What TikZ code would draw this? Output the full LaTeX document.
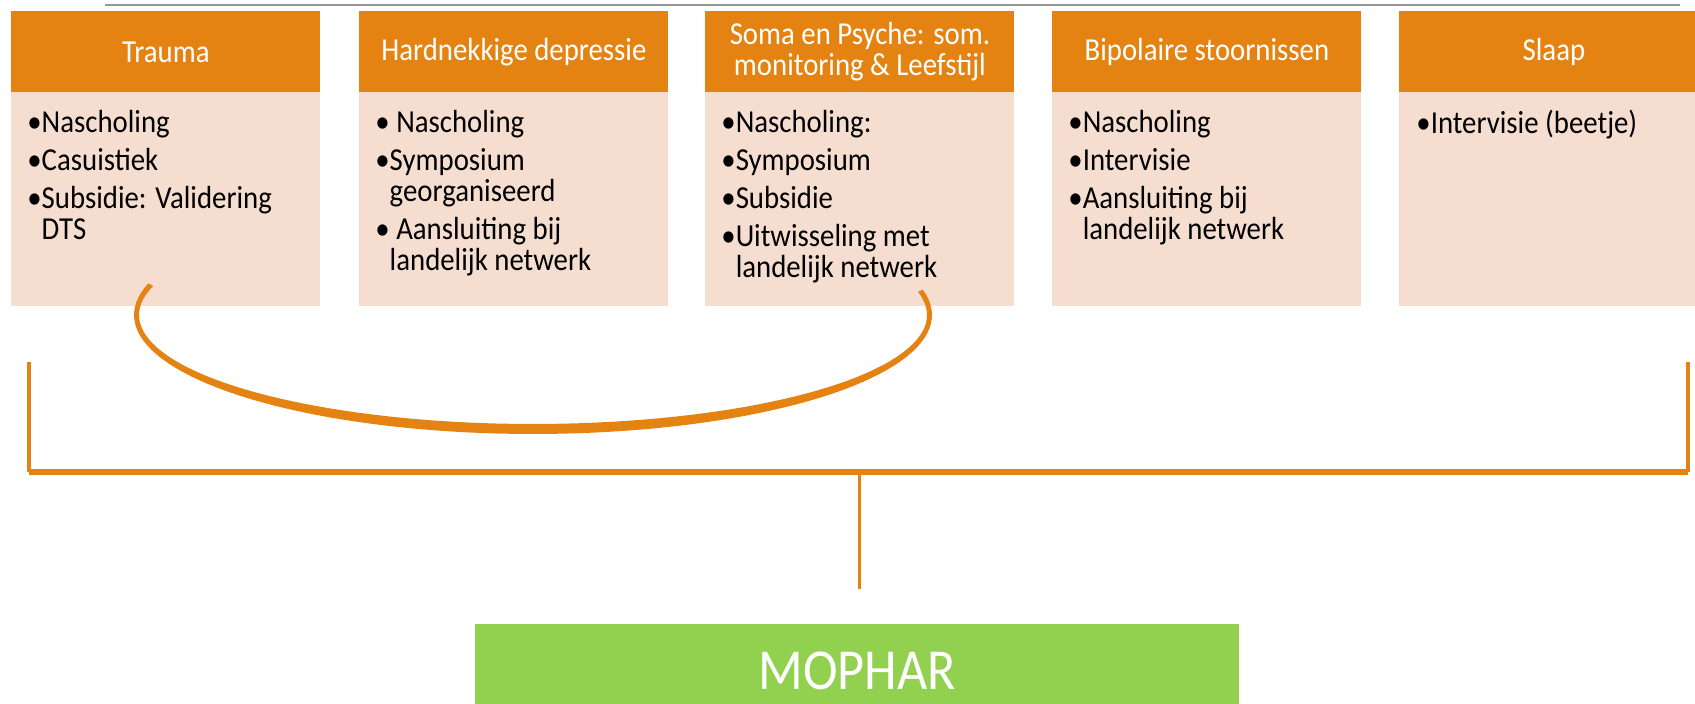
\documentclass[tikz,border=0pt]{standalone}
\usepackage{fontspec}
\setmainfont[FakeStretch=0.9]{Carlito}
\definecolor{hdorange}{RGB}{228,131,18}
\definecolor{bodypeach}{RGB}{245,222,208}
\definecolor{mgreen}{RGB}{146,208,80}
\definecolor{greyline}{RGB}{150,150,150}
\begin{document}
\begin{tikzpicture}[x=0.5pt,y=-0.5pt,
  head/.style={fill=hdorange,text=white,minimum width=154.5pt,minimum height=40.5pt,inner sep=0pt,anchor=north west,align=center,font=\fontsize{16}{15.5}\selectfont},
  panel/.style={fill=bodypeach,minimum width=154.5pt,minimum height=107pt,inner sep=0pt,anchor=north west},
  items/.style={anchor=north west,inner sep=0pt,align=left,text=black,font=\fontsize{16}{15.5}\selectfont},
  link/.style={draw=hdorange,line width=1.75pt},
  hub/.style={fill=mgreen,text=white,minimum width=382pt,minimum height=46pt,inner sep=0pt,anchor=north west,font=\fontsize{29}{29}\selectfont},
]
\useasboundingbox (0,0) rectangle (1695,704);
\clip (0,0) rectangle (1695,704);

% top grey rule
\coordinate (ruleL) at (105,5);
\coordinate (ruleR) at (1680,5);
\draw[greyline,line width=1pt] (ruleL) -- (ruleR);

% panels
\node[panel] (b1) at (11,92) {};
\node[panel] (b2) at (359,92) {};
\node[panel] (b3) at (705,92) {};
\node[panel] (b4) at (1052,92) {};
\node[panel] (b5) at (1399,92) {};

\node[head] (h1) at (11,11) {Trauma};
\node[head] (h2) at (359,11) {Hardnekkige depressie};
\node[head] (h3) at (705,11) {Soma en Psyche: som.\\monitoring \& Leefstijl};
\node[head] (h4) at (1052,11) {Bipolaire stoornissen};
\node[head] (h5) at (1399,11) {Slaap};

\node[items] (t1) at (27,110) {•Nascholing\\[3.5pt]•Casuistiek\\[3.5pt]•Subsidie: Validering\\\phantom{•}DTS};
\node[items] (t2) at (375,110) {• Nascholing\\[3.5pt]•Symposium\\\phantom{•}georganiseerd\\[3.5pt]• Aansluiting bij\\\phantom{•}landelijk netwerk};
\node[items] (t3) at (721,110) {•Nascholing:\\[3.5pt]•Symposium\\[3.5pt]•Subsidie\\[3.5pt]•Uitwisseling met\\\phantom{•}landelijk netwerk};
\node[items] (t4) at (1068,110) {•Nascholing\\[3.5pt]•Intervisie\\[3.5pt]•Aansluiting bij\\\phantom{•}landelijk netwerk};
\node[items] (t5) at (1416,110) {•Intervisie (beetje)};

% swoosh
\fill[hdorange] plot[domain=164.6:372.3,samples=90] ({533+399*cos(\x)},{315-119*sin(\x)})
  -- plot[domain=372.3:164.6,samples=90] ({533+394*cos(\x)},{315-109*sin(\x)}) -- cycle;

% bracket
\coordinate (blt) at (29,362);
\coordinate (blb) at (29,472);
\coordinate (brt) at (1688,362);
\coordinate (brb) at (1688,472);
\draw[link] (blt) -- (blb);
\draw[link] (brt) -- (brb);
\draw[link,line width=3pt] (blb) -- (brb);

% hub
\node[hub] (mophar) at (475,624) {MOPHAR};
\coordinate (stemtop) at (859,472);
\coordinate (stembot) at (859,589);
\draw[link,line width=1.5pt] (stemtop) -- (stembot);
\end{tikzpicture}
\end{document}
